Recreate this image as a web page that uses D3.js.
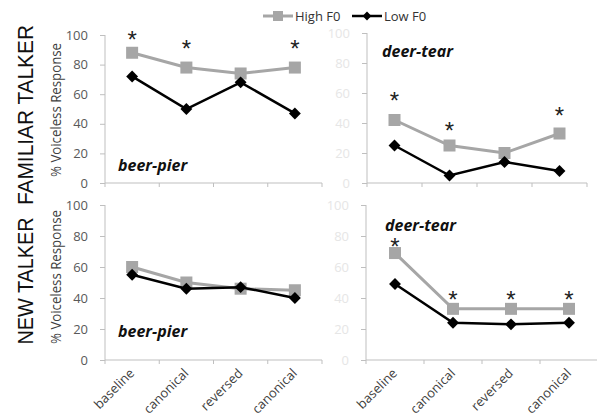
<!DOCTYPE html>
<html><head><meta charset="utf-8">
<script src="https://cdn.jsdelivr.net/npm/d3@7"></script>
<style>body{margin:0;background:#fff}svg{display:block}</style>
</head><body>
<script>
const categories = ["baseline","canonical","reversed","canonical"];
const seriesNames = ["High F0","Low F0"];
const famBeerHigh = [88,78,74,78];
const famBeerLow  = [72,50,68,47];
const famDeerHigh = [42,25,20,33];
const famDeerLow  = [25,5,14,8];
const newBeerHigh = [60,50,46,45];
const newBeerLow  = [55,46,47,40];
const newDeerHigh = [69,33,33,33];
const newDeerLow  = [49,24,23,24];
// star annotations: [category index, y value]
const famBeerStars = [[0,98],[1,92],[3,92]];
const famDeerStars = [[0,56],[1,36],[3,46]];
const newBeerStars = [];
const newDeerStars = [[0,74],[1,40],[2,40],[3,40]];
const yTicks = [0,20,40,60,80,100];

const W=597,H=414;
const svg=d3.select("body").append("svg").attr("width",W).attr("height",H);
const font="'Liberation Sans', Arial, sans-serif";
const font2="'Open Sans', sans-serif";
const grey="#a6a6a6", axisC="#bfbfbf";

const panels=[
 {x:[105,322],y:[183,35],high:famBeerHigh,low:famBeerLow,stars:famBeerStars,label:"beer-pier",lx:118,ly:171,tickC:"#595959",cats:false},
 {x:[367,587],y:[183,33],high:famDeerHigh,low:famDeerLow,stars:famDeerStars,label:"deer-tear",lx:382,ly:57,tickC:"#e6e6e6",cats:false},
 {x:[105,322],y:[360,205],high:newBeerHigh,low:newBeerLow,stars:newBeerStars,label:"beer-pier",lx:118,ly:337,tickC:"#595959",cats:true},
 {x:[366,598],y:[360,205],high:newDeerHigh,low:newDeerLow,stars:newDeerStars,label:"deer-tear",lx:385,ly:231,tickC:"#e6e6e6",cats:true}
];

panels.forEach(p=>{
  const g=svg.append("g");
  const xs=d3.scaleBand().domain(d3.range(categories.length)).range(p.x);
  const ys=d3.scaleLinear().domain([0,100]).range(p.y);
  const cx=i=>xs(i)+xs.bandwidth()/2;
  // y axis
  const ya=g.append("g").attr("transform",`translate(${p.x[0]},0)`)
    .call(d3.axisLeft(ys).tickValues(yTicks).tickSize(5).tickPadding(12));
  ya.select(".domain").attr("stroke",axisC).attr("d",`M0,${p.y[0]}V${p.y[1]}`);
  ya.selectAll("line").attr("stroke",axisC);
  ya.selectAll("text").attr("fill",p.tickC).style("font-family",font2).style("font-size","13px");
  // x axis
  const xa=g.append("g").attr("transform",`translate(0,${p.y[0]})`);
  xa.append("line").attr("x1",p.x[0]).attr("x2",p.x[1]).attr("stroke",axisC).attr("stroke-width",1.2);
  const bounds=d3.range(categories.length+1).map(i=>i<categories.length?xs(i):p.x[1]);
  xa.selectAll("line.t").data(bounds).join("line").attr("class","t")
    .attr("x1",d=>d).attr("x2",d=>d).attr("y1",0).attr("y2",4).attr("stroke",axisC);
  if(p.cats){
    xa.selectAll("text").data(categories).join("text")
      .attr("transform",(d,i)=>`translate(${cx(i)+3},${14}) rotate(-45)`)
      .attr("text-anchor","end").attr("fill","#404040")
      .style("font-family",font2).style("font-size","13px").text(d=>d);
  }
  const line=d3.line().x((d,i)=>cx(i)).y(d=>ys(d));
  g.append("path").attr("d",line(p.high)).attr("fill","none").attr("stroke",grey).attr("stroke-width",3);
  g.selectAll("rect.h").data(p.high).join("rect").attr("class","h")
    .attr("x",(d,i)=>cx(i)-6).attr("y",d=>ys(d)-6).attr("width",12).attr("height",12).attr("fill",grey);
  g.append("path").attr("d",line(p.low)).attr("fill","none").attr("stroke","#000").attr("stroke-width",2.5);
  g.selectAll("path.l").data(p.low).join("path").attr("class","l")
    .attr("d",d3.symbol(d3.symbolDiamond2,90)()).attr("transform",(d,i)=>`translate(${cx(i)},${ys(d)})`).attr("fill","#000");
  g.selectAll("text.s").data(p.stars).join("text").attr("class","s")
    .attr("x",d=>cx(d[0])).attr("y",d=>ys(d[1])+10).attr("text-anchor","middle")
    .style("font-family",font).style("font-size","24px").attr("fill","#222").text("*");
  g.append("text").attr("x",p.lx).attr("y",p.ly).style("font-family",font2)
    .style("font-size","16px").style("font-weight","bold").style("font-style","italic").attr("fill","#111").text(p.label);
});

// row titles
[["FAMILIAR TALKER",115,180],["NEW TALKER",281,127]].forEach(([t,y,len])=>{
  svg.append("text").attr("transform",`translate(33,${y}) rotate(-90)`).attr("text-anchor","middle")
    .attr("textLength",len).attr("lengthAdjust","spacingAndGlyphs")
    .style("font-family",font).style("font-size","22px").attr("fill","#111").text(t);
});
[110,277].forEach(y=>{
  svg.append("text").attr("transform",`translate(61,${y}) rotate(-90)`).attr("text-anchor","middle")
    .attr("textLength",134).attr("lengthAdjust","spacingAndGlyphs")
    .style("font-family",font2).style("font-size","14px").attr("fill","#404040").text("% Voiceless Response");
});

// legend
const leg=[{x:263,name:seriesNames[0],c:grey,sym:"sq"},{x:352,name:seriesNames[1],c:"#000",sym:"di"}];
leg.forEach(l=>{
  const g=svg.append("g");
  g.append("line").attr("x1",l.x).attr("x2",l.x+30).attr("y1",16).attr("y2",16).attr("stroke",l.c).attr("stroke-width",l.sym=="sq"?3:2.5);
  if(l.sym=="sq") g.append("rect").attr("x",l.x+10).attr("y",11).attr("width",10).attr("height",10).attr("fill",l.c);
  else g.append("path").attr("d",d3.symbol(d3.symbolDiamond2,50)()).attr("transform",`translate(${l.x+15},16)`).attr("fill",l.c);
  g.append("text").attr("x",l.x+32).attr("y",21).style("font-family",font2).style("font-size","13px").attr("fill","#333").text(l.name);
});
</script>
</body></html>
